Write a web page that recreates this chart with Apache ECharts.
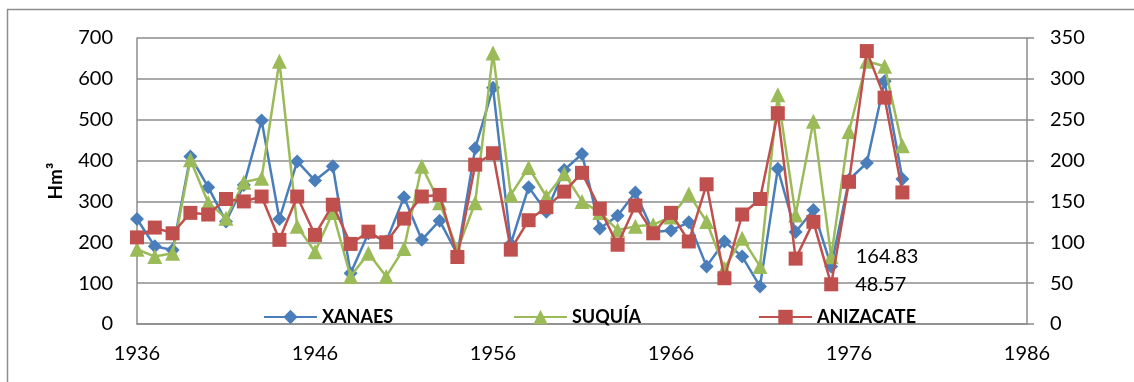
<!DOCTYPE html>
<html>
<head>
<meta charset="utf-8">
<script src="https://cdn.jsdelivr.net/npm/echarts@6/dist/echarts.min.js"></script>
<style>
html,body{margin:0;padding:0;background:#fff;}
#chart{width:1134px;height:382px;}
</style>
</head>
<body>
<div id="chart"></div>
<script>
const years = [1936,1937,1938,1939,1940,1941,1942,1943,1944,1945,1946,1947,1948,1949,1950,1951,1952,1953,1954,1955,1956,1957,1958,1959,1960,1961,1962,1963,1964,1965,1966,1967,1968,1969,1970,1971,1972,1973,1974,1975,1976,1977,1978,1979];
const xanaes = [257,190,181,410,335,251,340,498,257,398,351,386,124,222,202,310,206,253,170,430,578,196,335,275,377,416,234,265,322,225,229,249,141,202,165,92,380,225,279,141,353,394,594,355];
const suquia = [183,165,173,402,297,259,347,357,643,239,177,273,116,173,116,185,386,297,181,297,663,316,383,312,368,300,273,230,239,243,262,318,251,136,210,141,561,267,496,164.83,471,643,631,436];
const anizacate = [106,118,111,136,134,153,150,156,103,156,109,146,98,113,100,129,156,158,82,195,209,91,127,143,162,185,141,97,145,111,136,101,171,56,134,153,258,80,125,48.57,174,334,277,161];
const xTicks = [1936,1946,1956,1966,1976,1986];
const leftTicks = [0,100,200,300,400,500,600,700];
const rightTicks = [0,50,100,150,200,250,300,350];
const labelledYear = 1975;

const FONT = 'Lato, "Open Sans", sans-serif';
const GRAY = '#8c8c8c';

function pairs(vals, labelled) {
  return years.map((y, i) => {
    const d = { value: [y, vals[i]] };
    if (labelled && y === labelledYear) {
      d.label = { show: true, position: 'right', distance: 17, color: '#000',
        fontFamily: FONT, fontSize: 20, formatter: p => String(p.value[1]) };
    }
    return d;
  });
}

const legendText = { fontFamily: FONT, fontWeight: 'bold', fontSize: 18, color: '#000' };

const chart = echarts.init(document.getElementById('chart'), null, { renderer: 'canvas' });
chart.setOption({
  animation: false,
  backgroundColor: '#fff',
  graphic: [{
    type: 'rect', silent: true, z: -10,
    shape: { x: 7.5, y: 9.5, width: 1300, height: 600 },
    style: { fill: 'none', stroke: '#8e8e8e', lineWidth: 1.5 }
  }],
  grid: { left: 137, right: 107, top: 38, bottom: 58, containLabel: false },
  legend: [
    { data: ['XANAES'], left: 258, top: 303, itemWidth: 53, itemHeight: 18, itemGap: 0, textStyle: legendText },
    { data: ['SUQUÍA'], left: 508, top: 303, itemWidth: 53, itemHeight: 18, itemGap: 0, textStyle: legendText },
    { data: ['ANIZACATE'], left: 753, top: 303, itemWidth: 53, itemHeight: 18, itemGap: 0, textStyle: legendText }
  ],
  xAxis: {
    type: 'value', min: xTicks[0], max: xTicks[xTicks.length - 1], interval: 10,
    axisLine: { show: true, lineStyle: { color: GRAY, width: 1.5 } },
    axisTick: { show: false },
    splitLine: { show: false },
    axisLabel: { color: '#000', fontFamily: FONT, fontSize: 20, margin: 20, formatter: v => String(v) }
  },
  yAxis: [{
    type: 'value', min: leftTicks[0], max: leftTicks[leftTicks.length - 1], interval: 100,
    name: 'Hm³', nameLocation: 'middle', nameRotate: 90, nameGap: 72,
    nameTextStyle: { fontFamily: FONT, fontWeight: 'bold', fontSize: 19, color: '#000' },
    axisLine: { show: true, lineStyle: { color: GRAY, width: 1.5 } },
    axisTick: { show: false },
    splitLine: { show: true, lineStyle: { color: GRAY, width: 1.5 } },
    axisLabel: { color: '#000', fontFamily: FONT, fontSize: 20, margin: 24 }
  }, {
    type: 'value', min: rightTicks[0], max: rightTicks[rightTicks.length - 1], interval: 50,
    position: 'right',
    axisLine: { show: true, lineStyle: { color: GRAY, width: 1.5 } },
    axisTick: { show: true, length: 7, lineStyle: { color: GRAY, width: 1.5 } },
    splitLine: { show: false },
    axisLabel: { color: '#000', fontFamily: FONT, fontSize: 20, margin: 23 }
  }],
  series: [{
    name: 'XANAES', type: 'line', yAxisIndex: 0, data: pairs(xanaes, false),
    symbol: 'diamond', symbolSize: 14, color: '#4a7ebb',
    lineStyle: { width: 2.5, color: '#4a7ebb' }, itemStyle: { color: '#4a7ebb' }, z: 2
  }, {
    name: 'SUQUÍA', type: 'line', yAxisIndex: 0, data: pairs(suquia, true),
    symbol: 'triangle', symbolSize: 15, color: '#9bbb59',
    lineStyle: { width: 2.5, color: '#9bbb59' }, itemStyle: { color: '#9bbb59' }, z: 3
  }, {
    name: 'ANIZACATE', type: 'line', yAxisIndex: 1, data: pairs(anizacate, true),
    symbol: 'rect', symbolSize: 14, color: '#c0504d',
    lineStyle: { width: 2.5, color: '#c0504d' }, itemStyle: { color: '#c0504d' }, z: 4
  }]
});
</script>
</body>
</html>
